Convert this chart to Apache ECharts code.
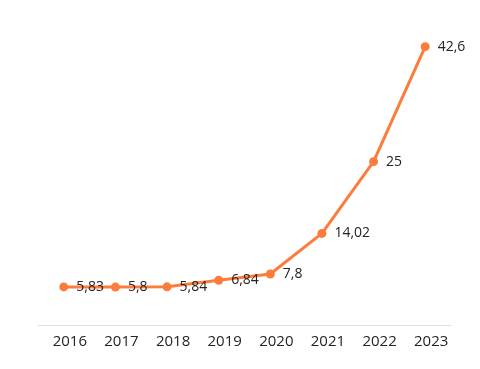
<!DOCTYPE html>
<html><head><meta charset="utf-8">
<script src="https://cdn.jsdelivr.net/npm/echarts@6/dist/echarts.min.js"></script>
<style>html,body{margin:0;padding:0;background:#fff}#c{width:480px;height:369px}</style>
</head><body><div id="c"></div>
<script>
const years = ['2016','2017','2018','2019','2020','2021','2022','2023'];
const values = [5.83, 5.8, 5.84, 6.84, 7.8, 14.02, 25, 42.6];
const chart = echarts.init(document.getElementById('c'));
chart.setOption({
  animation: false,
  grid: {left: 38, right: 29, top: 31, bottom: 44},
  xAxis: {
    type: 'category', data: years, boundaryGap: true,
    axisLine: {lineStyle: {color: '#e0e0e0', width: 1}},
    axisTick: {show: false},
    axisLabel: {color: '#252423', fontSize: 15, fontFamily: 'Open Sans', margin: 9, padding: [0, 0, 0, 12]}
  },
  yAxis: {type: 'value', min: 0, max: 45, show: false, splitLine: {show: false}},
  series: [{
    type: 'line', data: values,
    itemStyle: {color: '#FD7C3C'},
    lineStyle: {width: 3, color: '#FD7C3C'},
    symbol: 'circle', symbolSize: 9,
    label: {
      show: true, position: 'right', distance: 8,
      color: '#252423', fontSize: 14, fontFamily: 'Open Sans',
      formatter: p => String(p.value).replace('.', ',')
    }
  }]
});
</script></body></html>
